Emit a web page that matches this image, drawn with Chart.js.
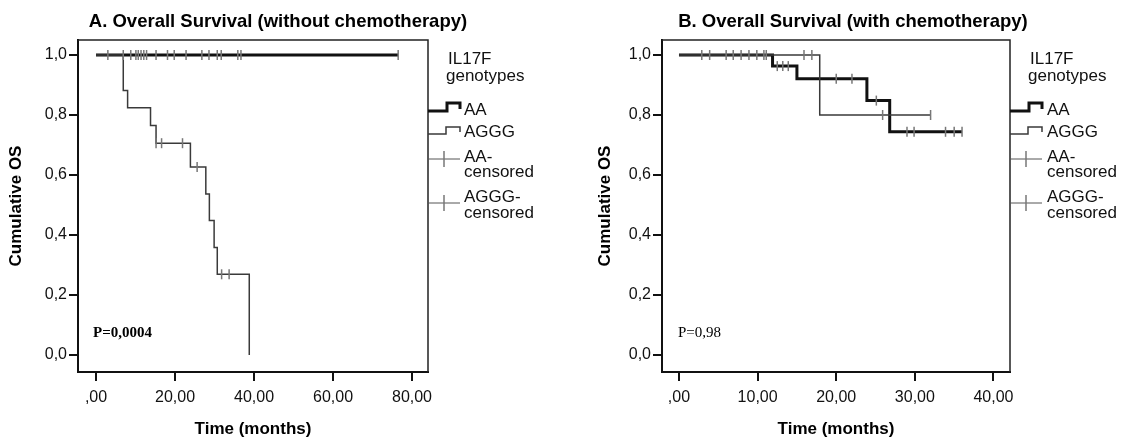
<!DOCTYPE html>
<html>
<head>
<meta charset="utf-8">
<script src="https://cdn.jsdelivr.net/npm/chart.js@4.4.0/dist/chart.umd.min.js"></script>
<style>
  body { margin: 0; background: #fff; width: 1123px; height: 440px; overflow: hidden; position: relative; }
  canvas { position: absolute; top: 0; }
  #chartA { left: 0; }
  #chartB { left: 560px; }
</style>
</head>
<body>
<canvas id="chartA" width="560" height="440"></canvas>
<canvas id="chartB" width="563" height="440"></canvas>
<script>
// values
const yTicks = [0, 0.2, 0.4, 0.6, 0.8, 1.0];
const yTickLabels = ['0,0', '0,2', '0,4', '0,6', '0,8', '1,0'];

// A. without chemotherapy
const xTicksA = [0, 20, 40, 60, 80];
const xTickLabelsA = [',00', '20,00', '40,00', '60,00', '80,00'];
const timeAA_A = [0, 76.5];
const survAA_A = [1, 1];
const censAA_A = [3.0, 6.9, 8.8, 10.1, 10.7, 11.4, 12.1, 12.8, 15.2, 18.1, 19.8, 22.8, 26.8, 28.6, 30.7, 31.7, 35.9, 36.7, 76.5];
const timeAGGG_A = [0, 6.9, 8.0, 13.8, 15.2, 23.9, 27.8, 28.7, 29.9, 30.7, 38.8];
const survAGGG_A = [1, 0.882, 0.824, 0.765, 0.706, 0.627, 0.537, 0.448, 0.358, 0.269, 0];
const censAGGG_A = [15.2, 16.6, 21.9, 25.6, 31.8, 33.7];

// B. with chemotherapy
const xTicksB = [0, 10, 20, 30, 40];
const xTickLabelsB = [',00', '10,00', '20,00', '30,00', '40,00'];
const timeAA_B = [0, 11.9, 15.0, 23.9, 26.8, 36.0];
const survAA_B = [1, 0.963, 0.921, 0.848, 0.744, 0.744];
const censAA_B = [2.9, 3.9, 6.0, 6.9, 7.9, 8.9, 9.9, 10.8, 11.1, 12.5, 13.2, 13.9, 20.0, 22.0, 25.1, 29.0, 29.9, 33.9, 35.0, 36.0];
const timeAGGG_B = [0, 17.9, 32.0];
const survAGGG_B = [1, 0.8, 0.8];
const censAGGG_B = [15.9, 16.9, 25.9, 32.0];

const legendHead = ['IL17F', 'genotypes'];
const groups = ['AA', 'AGGG'];

const SANS = "'Liberation Sans', Arial, sans-serif";
const SERIF = "'Liberation Serif', 'Times New Roman', serif";

function kmPoints(t, s) {
  return t.map((x, i) => ({ x: x, y: s[i] }));
}

// survival value of the curve at a censoring time
function censorPoints(c, t, s) {
  return c.map(x => {
    let y = s[0];
    t.forEach((tt, i) => { if (tt <= x) y = s[i]; });
    return { x: x, y: y };
  });
}

const extras = {
  id: 'extras',
  afterDraw(chart, args, o) {
    const ctx = chart.ctx;
    const a = chart.chartArea;
    ctx.save();
    // top and right side of the plot box
    ctx.strokeStyle = '#222';
    ctx.lineWidth = 1.5;
    ctx.beginPath();
    ctx.moveTo(a.left, a.top);
    ctx.lineTo(a.right, a.top);
    ctx.lineTo(a.right, a.bottom);
    ctx.stroke();

    // title
    ctx.fillStyle = '#000';
    ctx.font = 'bold 18.5px ' + SANS;
    ctx.textAlign = 'center';
    ctx.textBaseline = 'alphabetic';
    ctx.fillText(o.title, o.titleX, 27);

    // p value
    ctx.textAlign = 'left';
    ctx.font = o.pBold ? 'bold 15px ' + SERIF : '15px ' + SERIF;
    ctx.fillText(o.pText, o.pX, 337);

    // legend
    const R = a.right;
    const hx = R + 18;
    const tx = R + o.itemGap;
    ctx.font = '17px ' + SANS;
    ctx.fillStyle = '#111';
    ctx.fillText(legendHead[0], hx + 2, 64);
    ctx.fillText(legendHead[1], hx, 81);
    ctx.fillText(groups[0], tx, 115);
    ctx.fillText(groups[1], tx, 137);
    ctx.fillText(groups[0] + '-', tx, 162);
    ctx.fillText('censored', tx, 177);
    ctx.fillText(groups[1] + '-', tx, 202);
    ctx.fillText('censored', tx, 218);

    ctx.strokeStyle = '#111';
    ctx.lineWidth = 3;
    ctx.beginPath();
    ctx.moveTo(R, 111); ctx.lineTo(R + 19, 111); ctx.lineTo(R + 19, 103);
    ctx.lineTo(R + 32, 103); ctx.lineTo(R + 32, 109);
    ctx.stroke();

    ctx.strokeStyle = '#3a3a3a';
    ctx.lineWidth = 1.5;
    ctx.beginPath();
    ctx.moveTo(R, 134); ctx.lineTo(R + 18, 134); ctx.lineTo(R + 18, 127);
    ctx.lineTo(R + 32, 127); ctx.lineTo(R + 32, 132);
    ctx.stroke();

    [159, 203].forEach(y => {
      ctx.strokeStyle = '#555';
      ctx.lineWidth = 1;
      ctx.beginPath();
      ctx.moveTo(R, y); ctx.lineTo(R + 32, y);
      ctx.stroke();
      ctx.strokeStyle = '#777';
      ctx.lineWidth = 1.5;
      ctx.beginPath();
      ctx.moveTo(R + 16, y - 8); ctx.lineTo(R + 16, y + 8);
      ctx.stroke();
    });
    ctx.restore();
  }
};

function makeChart(id, o) {
  return new Chart(document.getElementById(id), {
    type: 'scatter',
    data: {
      datasets: [
        { label: 'AA', data: kmPoints(o.tAA, o.sAA), showLine: true, stepped: 'before',
          borderColor: '#111', borderWidth: 3, pointRadius: 0, order: 2 },
        { label: 'AGGG', data: kmPoints(o.tAGGG, o.sAGGG), showLine: true, stepped: 'before',
          borderColor: '#3a3a3a', borderWidth: 1.5, pointRadius: 0, order: 1 },
        { label: 'AA-censored', data: censorPoints(o.cAA, o.tAA, o.sAA), showLine: false,
          pointStyle: 'line', pointRotation: 90, pointRadius: 5,
          pointBorderColor: '#777', pointBorderWidth: 1.5, order: 0 },
        { label: 'AGGG-censored', data: censorPoints(o.cAGGG, o.tAGGG, o.sAGGG), showLine: false,
          pointStyle: 'line', pointRotation: 90, pointRadius: 5,
          pointBorderColor: '#777', pointBorderWidth: 1.5, order: 0 }
      ]
    },
    options: {
      responsive: false,
      animation: false,
      layout: { padding: { left: 0, right: o.padRight, top: 40, bottom: 0 } },
      plugins: {
        legend: { display: false },
        tooltip: { enabled: false },
        extras: o.extras
      },
      scales: {
        x: {
          type: 'linear', min: o.xMin, max: o.xMax,
          afterFit(s) { s.height = 68; },
          afterBuildTicks(s) { s.ticks = o.xTicks.map(v => ({ value: v })); },
          ticks: { callback: (v, i) => o.xLabels[i], font: { family: SANS, size: 16 }, color: '#111',
                   padding: 7, maxRotation: 0, autoSkip: false },
          grid: { drawOnChartArea: false, drawTicks: true, tickLength: 9, color: '#111', lineWidth: 2 },
          border: { display: true, color: '#111', width: 2 },
          title: { display: true, text: 'Time (months)', color: '#000', padding: 0,
                   font: { family: SANS, size: 17, weight: 'bold' } }
        },
        y: {
          type: 'linear', min: -0.0567, max: 1.05,
          afterFit(s) { s.width = o.yWidth; },
          afterBuildTicks(s) { s.ticks = yTicks.map(v => ({ value: v })); },
          ticks: { callback: (v, i) => yTickLabels[i], font: { family: SANS, size: 16 }, color: '#111',
                   padding: 2, autoSkip: false },
          grid: { drawOnChartArea: false, drawTicks: true, tickLength: 9, color: '#111', lineWidth: 2 },
          border: { display: true, color: '#111', width: 2 },
          title: { display: true, text: 'Cumulative OS', color: '#000', padding: { top: o.yTitlePad, bottom: 0 },
                   font: { family: SANS, size: 17, weight: 'bold' } }
        }
      }
    },
    plugins: [extras]
  });
}

makeChart('chartA', {
  tAA: timeAA_A, sAA: survAA_A, cAA: censAA_A,
  tAGGG: timeAGGG_A, sAGGG: survAGGG_A, cAGGG: censAGGG_A,
  xTicks: xTicksA, xLabels: xTickLabelsA, xMin: -4.56, xMax: 84.05,
  padRight: 132, yWidth: 78, yTitlePad: 6,
  extras: { title: 'A. Overall Survival (without chemotherapy)', titleX: 278, pText: 'P=0,0004', pX: 93, pBold: true, itemGap: 36 }
});

makeChart('chartB', {
  tAA: timeAA_B, sAA: survAA_B, cAA: censAA_B,
  tAGGG: timeAGGG_B, sAGGG: survAGGG_B, cAGGG: censAGGG_B,
  xTicks: xTicksB, xLabels: xTickLabelsB, xMin: -2.16, xMax: 42.1,
  padRight: 113, yWidth: 102, yTitlePad: 35,
  extras: { title: 'B. Overall Survival (with chemotherapy)', titleX: 293, pText: 'P=0,98', pX: 118, pBold: false, itemGap: 37 }
});
</script>
</body>
</html>
